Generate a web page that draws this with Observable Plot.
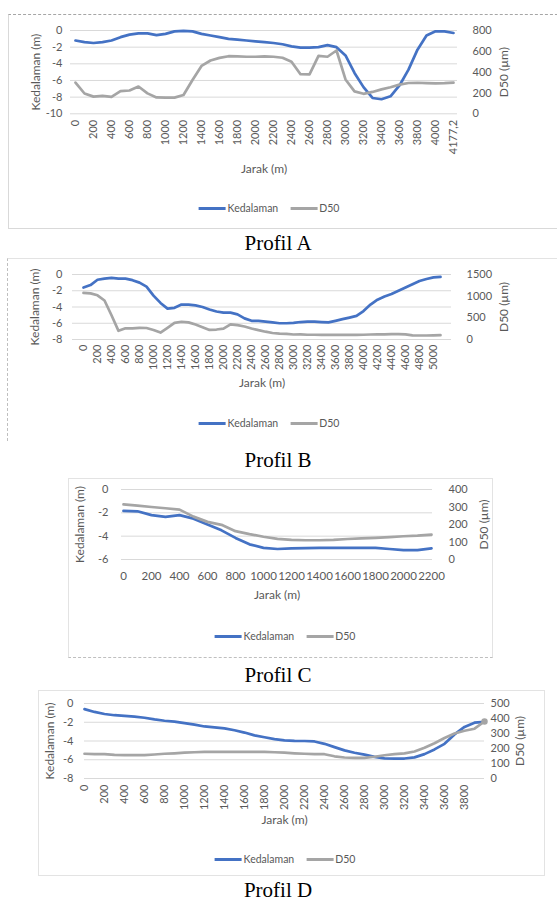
<!DOCTYPE html>
<html><head><meta charset="utf-8">
<script src="https://cdn.jsdelivr.net/npm/d3@7"></script>
<script src="https://cdn.jsdelivr.net/npm/@observablehq/plot@0.6"></script>
<style>
body{margin:0;background:#fff;}
#root{position:relative;width:557px;height:905px;overflow:hidden;font-family:Lato,sans-serif;}
.frame{position:absolute;box-sizing:border-box;}
.legend{position:absolute;display:flex;align-items:center;font:10.5px Lato,sans-serif;color:#595959;transform:translate(-50%,-50%);white-space:nowrap}
.sw{display:inline-block;width:27px;height:3px;margin-right:2px}
.cap{position:absolute;font-family:"Liberation Serif","Times New Roman",serif;font-size:21px;color:#000;transform:translate(-50%,-50%);white-space:nowrap}
.plot{position:absolute;}
</style></head><body><div id="root"></div>
<script>
// ---------- Profil A ----------
const distA = [0,100,200,300,400,500,600,700,800,900,1000,1100,1200,1300,1400,1500,1600,1700,1800,1900,2000,2100,2200,2300,2400,2500,2600,2700,2800,2900,3000,3100,3200,3300,3400,3500,3600,3700,3800,3900,4000,4100,4177.2];
const depthA = [-1.2,-1.4,-1.5,-1.4,-1.2,-0.8,-0.5,-0.35,-0.35,-0.55,-0.4,-0.1,-0.05,-0.1,-0.4,-0.6,-0.8,-1.0,-1.1,-1.2,-1.3,-1.4,-1.5,-1.65,-1.9,-2.05,-2.05,-2.0,-1.75,-2.0,-3.0,-5.1,-6.8,-8.1,-8.25,-7.9,-6.6,-4.7,-2.3,-0.6,-0.1,-0.1,-0.3];
const d50A = [300,195,165,172,162,218,224,262,196,157,155,155,180,325,460,512,537,553,552,548,548,552,548,538,500,380,378,556,548,608,330,215,192,210,235,255,280,296,298,295,292,295,300];
const xTicksA = [0,200,400,600,800,1000,1200,1400,1600,1800,2000,2200,2400,2600,2800,3000,3200,3400,3600,3800,4000,4177.2];
const leftTicksA = [0,-2,-4,-6,-8,-10];
const rightTicksA = [0,200,400,600,800];

// ---------- Profil B ----------
const distB = [0,100,200,300,400,500,600,700,800,900,1000,1100,1200,1300,1400,1500,1600,1700,1800,1900,2000,2100,2200,2300,2400,2500,2600,2700,2800,2900,3000,3100,3200,3300,3400,3500,3600,3700,3800,3900,4000,4100,4200,4300,4400,4500,4600,4700,4800,4900,5000,5100];
const depthB = [-1.6,-1.3,-0.65,-0.5,-0.42,-0.5,-0.5,-0.7,-1.0,-1.5,-2.6,-3.5,-4.2,-4.1,-3.7,-3.7,-3.8,-4.0,-4.3,-4.55,-4.7,-4.7,-4.9,-5.4,-5.7,-5.7,-5.8,-5.9,-6.0,-6.0,-5.95,-5.85,-5.8,-5.8,-5.85,-5.9,-5.7,-5.5,-5.3,-5.1,-4.5,-3.7,-3.1,-2.7,-2.4,-2.0,-1.6,-1.2,-0.8,-0.55,-0.35,-0.3];
const d50B = [1075,1065,1020,900,560,200,258,258,270,265,220,160,270,385,410,395,345,285,220,230,250,350,330,300,255,215,180,150,135,130,115,118,110,110,105,105,105,105,105,108,110,115,118,120,125,125,120,95,92,92,95,100];
const xTicksB = [0,200,400,600,800,1000,1200,1400,1600,1800,2000,2200,2400,2600,2800,3000,3200,3400,3600,3800,4000,4200,4400,4600,4800,5000];
const leftTicksB = [0,-2,-4,-6,-8];
const rightTicksB = [0,500,1000,1500];

// ---------- Profil C ----------
const distC = [0,100,200,300,400,500,600,700,800,900,1000,1100,1200,1300,1400,1500,1600,1700,1800,1900,2000,2100,2200];
const depthC = [-1.83,-1.87,-2.2,-2.35,-2.2,-2.5,-3.0,-3.5,-4.15,-4.7,-5.0,-5.1,-5.05,-5.02,-5.0,-5.0,-5.0,-5.0,-5.0,-5.1,-5.2,-5.2,-5.05];
const d50C = [315,308,300,293,285,245,215,198,162,145,130,118,112,110,110,112,117,121,124,128,133,136,142];
const xTicksC = [0,200,400,600,800,1000,1200,1400,1600,1800,2000,2200];
const leftTicksC = [0,-2,-4,-6];
const rightTicksC = [0,100,200,300,400];

// ---------- Profil D ----------
const distD = [0,100,200,300,400,500,600,700,800,900,1000,1100,1200,1300,1400,1500,1600,1700,1800,1900,2000,2100,2200,2300,2400,2500,2600,2700,2800,2900,3000,3100,3200,3300,3400,3500,3600,3700,3800,3900,4000];
const depthD = [-0.6,-0.9,-1.12,-1.25,-1.32,-1.4,-1.52,-1.7,-1.84,-1.93,-2.1,-2.25,-2.45,-2.55,-2.65,-2.85,-3.1,-3.4,-3.6,-3.8,-3.93,-3.98,-4.0,-4.05,-4.3,-4.65,-5.0,-5.25,-5.45,-5.7,-5.85,-5.87,-5.87,-5.75,-5.4,-4.9,-4.3,-3.3,-2.5,-2.05,-1.95];
const d50D = [165,163,162,158,156,156,156,160,165,168,172,175,178,178,178,178,178,178,178,175,172,168,165,163,162,148,140,138,138,145,155,163,167,180,205,235,270,300,318,332,380];
const xTicksD = [0,200,400,600,800,1000,1200,1400,1600,1800,2000,2200,2400,2600,2800,3000,3200,3400,3600,3800];
const leftTicksD = [0,-2,-4,-6,-8];
const rightTicksD = [0,100,200,300,400,500];

const labels = {left: "Kedalaman (m)", right: "D50 (µm)", bottom: "Jarak (m)", s1: "Kedalaman", s2: "D50"};
const BLUE = "#4472C4", GRAY = "#A5A5A5", TXT = "#595959", GRID = "#d9d9d9";

const root = document.getElementById("root");

function addFrame(css) {
  const d = document.createElement("div");
  d.className = "frame";
  Object.assign(d.style, css);
  root.appendChild(d);
}

function panel(cfg) {
  const {left, top, width, height, x0, x1, yTop, yBot, cats, depth, d50, yMin, dMax,
         leftTicks, rightTicks, xTicks, rotate, lp, rp, xp, kx, dx, jy, fmt, endDot, fs} = cfg;
  const toY = v => yMin + v / dMax * (-yMin);
  const fromY = y => String(Math.round((y - yMin) / (-yMin) * dMax));
  const rows = cats.map((c, i) => ({c, depth: depth[i], d: toY(d50[i])}));
  const marks = [
    Plot.gridY({ticks: leftTicks, stroke: GRID, strokeOpacity: 1, strokeWidth: 1}),
    Plot.axisY({ticks: leftTicks, tickSize: 0, tickPadding: lp, tickFormat: d => String(d), label: null}),
    Plot.axisY({anchor: "right", ticks: rightTicks.map(toY), tickSize: 0, tickPadding: rp, tickFormat: fromY, label: null}),
    Plot.axisX({ticks: xTicks, tickSize: 0, tickPadding: xp, tickRotate: rotate, tickFormat: fmt || (d => String(d)), label: null, fontSize: fs || 11}),
    Plot.line(rows, {x: "c", y: "depth", stroke: BLUE, strokeWidth: 2.7}),
    Plot.line(rows, {x: "c", y: "d", stroke: GRAY, strokeWidth: 2.7}),
    Plot.text([labels.left], {text: d => d, frameAnchor: "left", textAnchor: "middle", rotate: -90, dx: kx - x0, fontSize: 12, fill: TXT}),
    Plot.text([labels.right], {text: d => d, frameAnchor: "right", textAnchor: "middle", rotate: -90, dx: dx - x1, fontSize: 12, fill: TXT}),
    Plot.text([labels.bottom], {text: d => d, frameAnchor: "bottom", dy: jy - yBot, fontSize: 12, fill: TXT})
  ];
  if (endDot) marks.push(Plot.dot(rows.slice(-1), {x: "c", y: "d", r: 2.5, fill: GRAY, stroke: GRAY}));
  const svg = Plot.plot({
    width, height,
    marginLeft: x0 - left, marginRight: left + width - x1,
    marginTop: yTop - top, marginBottom: top + height - yBot,
    x: {type: "point", domain: cats, padding: 0},
    y: {domain: [yMin, 0]},
    style: {fontFamily: "Lato, sans-serif", fontSize: "11px", color: TXT, background: "transparent", overflow: "visible"},
    marks
  });
  const wrap = document.createElement("div");
  wrap.className = "plot";
  wrap.style.left = left + "px";
  wrap.style.top = top + "px";
  wrap.appendChild(svg);
  root.appendChild(wrap);
}

function legend(cx, cy) {
  const d = document.createElement("div");
  d.className = "legend";
  d.style.left = cx + "px"; d.style.top = cy + "px";
  d.innerHTML = `<span class="sw" style="background:${BLUE}"></span><span>${labels.s1}</span>` +
    `<span class="sw" style="background:${GRAY};margin-left:12px"></span><span>${labels.s2}</span>`;
  root.appendChild(d);
}
function caption(text, cx, cy) {
  const d = document.createElement("div");
  d.className = "cap";
  d.style.left = cx + "px"; d.style.top = cy + "px";
  d.textContent = text;
  root.appendChild(d);
}

// frames
addFrame({left: "8px", top: "14px", width: "560px", height: "215px", borderTop: "1px dashed #a6a6a6", borderLeft: "1px solid #d9d9d9", borderBottom: "1px solid #d9d9d9"});
addFrame({left: "7px", top: "258px", width: "560px", height: "183px", borderTop: "1px solid #e3e3e3", borderLeft: "1px dashed #bfbfbf"});
addFrame({left: "68px", top: "478px", width: "425px", height: "180px", border: "1px solid #e3e3e3", borderBottom: "1px dashed #bfbfbf"});
addFrame({left: "38px", top: "690px", width: "507px", height: "186px", border: "1px solid #e3e3e3"});

panel({left: 8, top: 15, width: 549, height: 175, x0: 70, x1: 457, yTop: 30, yBot: 113.3,
  cats: distA, depth: depthA, d50: d50A, yMin: -10, dMax: 800,
  leftTicks: leftTicksA, rightTicks: rightTicksA, xTicks: xTicksA, rotate: -90,
  lp: 8, rp: 15, xp: 6, kx: 36, dx: 504, jy: 172, fmt: d => String(d).replace(".", ",")});
legend(269, 208); caption("Profil A", 278, 243);

panel({left: 8, top: 262, width: 549, height: 135, x0: 72, x1: 451, yTop: 274, yBot: 339,
  cats: distB, depth: depthB, d50: d50B, yMin: -8, dMax: 1500,
  leftTicks: leftTicksB, rightTicks: rightTicksB, xTicks: xTicksB, rotate: -90,
  lp: 10, rp: 15, xp: 5, kx: 35, dx: 504, jy: 386});
legend(269, 423); caption("Profil B", 278, 460);

panel({left: 68, top: 480, width: 425, height: 125, x0: 121, x1: 432, yTop: 489, yBot: 559,
  cats: distC, depth: depthC, d50: d50C, yMin: -6, dMax: 400,
  leftTicks: leftTicksC, rightTicks: rightTicksC, xTicks: xTicksC, rotate: 0,
  lp: 13, rp: 16, xp: 12, kx: 80, dx: 484, jy: 598, fs: 11.5});
legend(285, 636); caption("Profil C", 278, 675);

panel({left: 38, top: 695, width: 507, height: 135, x0: 84, x1: 484, yTop: 703, yBot: 778,
  cats: distD, depth: depthD, d50: d50D, yMin: -8, dMax: 500,
  leftTicks: leftTicksD, rightTicks: rightTicksD, xTicks: xTicksD, rotate: -90,
  lp: 11, rp: 6, xp: 6, kx: 50, dx: 520, jy: 823, endDot: true});
legend(285, 859); caption("Profil D", 278, 890);
</script>
</body></html>
